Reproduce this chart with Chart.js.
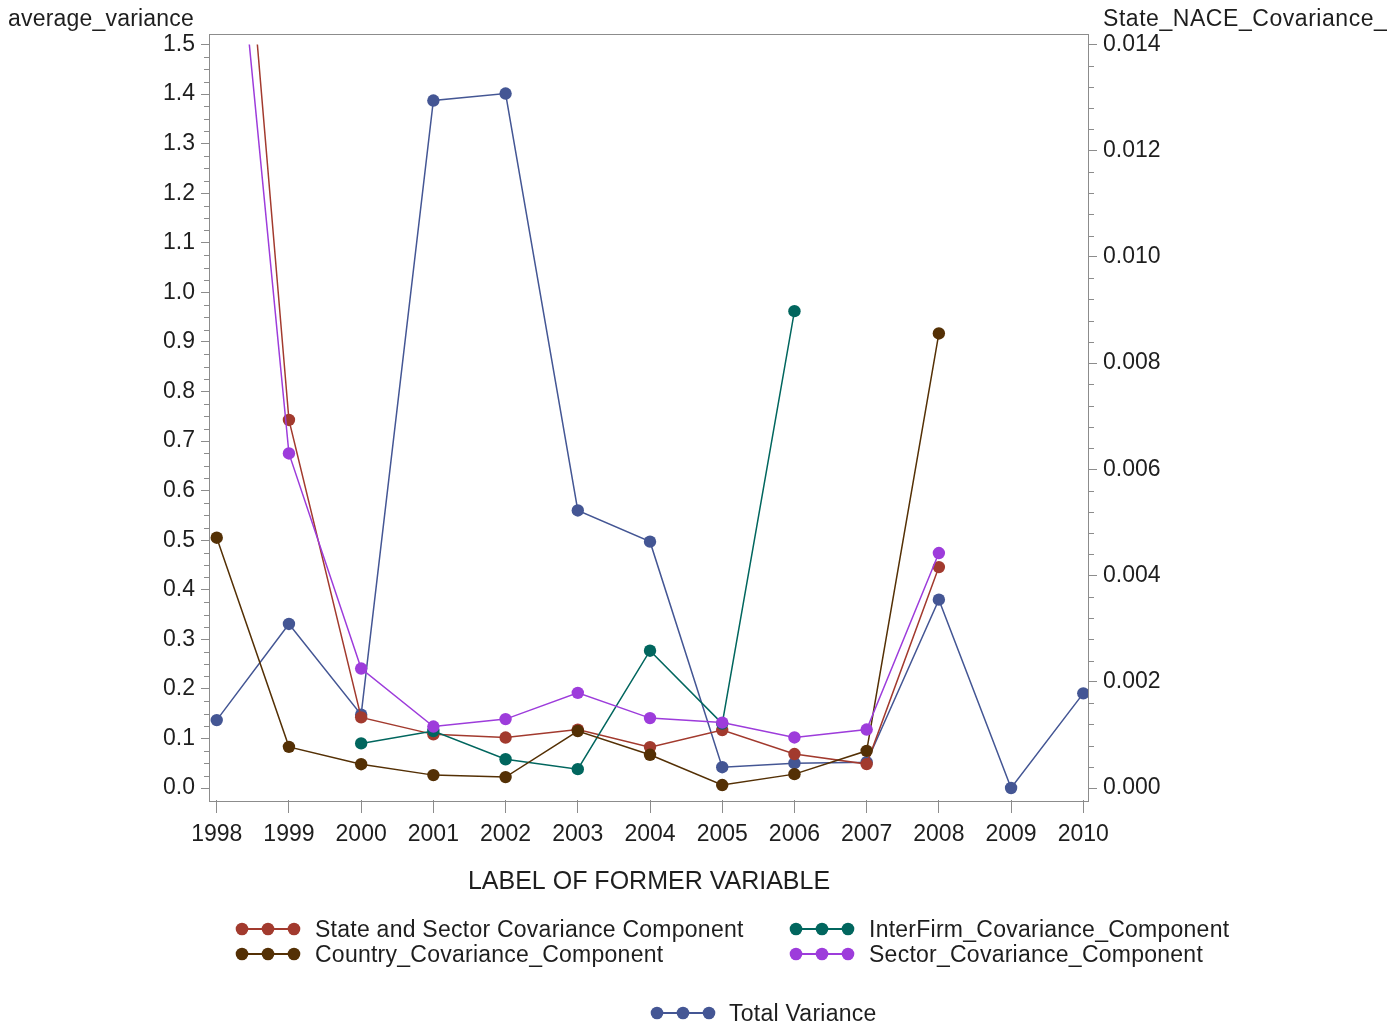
<!DOCTYPE html>
<html>
<head>
<meta charset="utf-8">
<script src="https://cdn.jsdelivr.net/npm/chart.js@4.4.1/dist/chart.umd.min.js"></script>
<style>
html,body{margin:0;padding:0;background:#fff;}
#wrap{position:relative;width:1387px;height:1027px;overflow:hidden;font-family:"Liberation Sans",Arial,sans-serif;color:#1e1e1e;}
#c{position:absolute;left:0;top:0;width:1387px;height:1027px;}
.t{position:absolute;font-size:23px;line-height:26px;white-space:nowrap;letter-spacing:0.2px;}
.lt{position:absolute;font-size:23px;line-height:26px;white-space:nowrap;letter-spacing:0.25px;}
.li{position:absolute;}
</style>
</head>
<body>
<div id="wrap">
<canvas id="c" width="1387" height="1027"></canvas>
<div class="t" style="left:8px;top:5px;">average_variance</div>
<div class="t" style="left:1103px;top:5px;letter-spacing:0.55px;">State_NACE_Covariance_</div>
</div>
<script>
// ---------------- data ----------------
const years = [1998, 1999, 2000, 2001, 2002, 2003, 2004, 2005, 2006, 2007, 2008, 2009, 2010];

const totalVariance   = [0.137, 0.331, 0.148, 1.387, 1.401, 0.560, 0.497, 0.042, 0.050, 0.052, 0.380, 0.000, 0.191];
// plotted on the right axis (State_NACE_Covariance_)
const stateSectorCov  = [0.0231, 0.00693, 0.00133, 0.00101, 0.00095, 0.00110, 0.00077, 0.00109, 0.00064, 0.00045, 0.00416, null, null];
const interFirmCov    = [null, null, 0.090, 0.115, 0.058, 0.038, 0.277, 0.130, 0.962, null, null, null, null];
const countryCov      = [0.505, 0.083, 0.048, 0.026, 0.022, 0.115, 0.067, 0.006, 0.028, 0.075, 0.917, null, null];
const sectorCov       = [2.179, 0.675, 0.241, 0.124, 0.139, 0.192, 0.141, 0.132, 0.102, 0.118, 0.474, null, null];

const leftTicks  = [0.0, 0.1, 0.2, 0.3, 0.4, 0.5, 0.6, 0.7, 0.8, 0.9, 1.0, 1.1, 1.2, 1.3, 1.4, 1.5];
const rightTicks = [0.000, 0.002, 0.004, 0.006, 0.008, 0.010, 0.012, 0.014];

const seriesNames = ['State and Sector Covariance Component', 'InterFirm_Covariance_Component',
                     'Country_Covariance_Component', 'Sector_Covariance_Component', 'Total Variance'];
const xTitle = 'LABEL OF FORMER VARIABLE';

// ---------------- styling ----------------
const colors = {
  total: '#445694', state: '#A23A2E', inter: '#01665E', country: '#543005', sector: '#9D3CDB'
};
const FONT = '"Liberation Sans", Arial, sans-serif';
const TXT = '#1e1e1e';
const AX = '#8c8c8c';
Chart.defaults.font.family = FONT;

function pts(vals) { return years.map((y, i) => ({x: y, y: vals[i]})); }
function ds(label, vals, color, axis, order) {
  return {
    label, data: pts(vals), yAxisID: axis, order,
    borderColor: color, backgroundColor: color, borderWidth: 1.5,
    pointRadius: 6.2, pointBorderWidth: 0, pointBackgroundColor: color,
    pointHoverRadius: 6.2, tension: 0, spanGaps: false,
    clip: {left: 0, top: -11, right: 0, bottom: 0}
  };
}

const RL = 0.014 / 1.5; // right axis units per left unit (shared pixel mapping)
const yMin = -0.0242, yMax = 1.5222;

const frameAndMinor = {
  id: 'frameAndMinor',
  afterDraw(chart) {
    const {ctx, chartArea: a, scales} = chart;
    ctx.save();
    ctx.strokeStyle = AX; ctx.lineWidth = 1;
    ctx.strokeRect(Math.round(a.left) + 0.5, Math.round(a.top) + 0.5,
                   Math.round(a.right - a.left) - 1, Math.round(a.bottom - a.top));
    ctx.beginPath();
    // minor ticks left (every 0.025)
    for (let i = 0; i <= 60; i++) {
      if (i % 4 === 0) continue;
      const y = Math.round(scales.y.getPixelForValue(i * 0.025)) + 0.5;
      ctx.moveTo(a.left - 5, y); ctx.lineTo(a.left, y);
    }
    // minor ticks right (every 0.0004)
    for (let i = 0; i <= 35; i++) {
      if (i % 5 === 0) continue;
      const y = Math.round(scales.y1.getPixelForValue(i * 0.0004)) + 0.5;
      ctx.moveTo(a.right, y); ctx.lineTo(a.right + 5, y);
    }
    ctx.stroke();
    ctx.restore();
  }
};

const chart = new Chart(document.getElementById('c'), {
  type: 'line',
  data: {
    datasets: [
      ds(seriesNames[4], totalVariance, colors.total, 'y', 5),
      ds(seriesNames[0], stateSectorCov, colors.state, 'y1', 4),
      ds(seriesNames[1], interFirmCov, colors.inter, 'y', 3),
      ds(seriesNames[2], countryCov, colors.country, 'y', 2),
      ds(seriesNames[3], sectorCov, colors.sector, 'y', 1)
    ]
  },
  options: {
    responsive: false, animation: false, devicePixelRatio: 1,
    layout: {padding: {top: 33.5, bottom: 127, left: 0, right: 0}},
    plugins: {legend: {display: false}, tooltip: {enabled: false}},
    events: [],
    scales: {
      x: {
        type: 'linear', position: 'bottom', min: 1997.893, max: 2010.079,
        afterBuildTicks: s => { s.ticks = years.map(v => ({value: v})); },
        ticks: {callback: v => String(v), font: {size: 23}, color: TXT, padding: 8, autoSkip: false, maxRotation: 0},
        grid: {display: true, drawOnChartArea: false, drawTicks: true, tickLength: 13, color: AX},
        border: {display: false},
        title: {display: true, text: xTitle, font: {size: 25}, color: TXT, padding: {top: 0, bottom: 3}},
        afterFit: s => { s.height = 100; }
      },
      y: {
        type: 'linear', position: 'left', min: yMin, max: yMax,
        afterBuildTicks: s => { s.ticks = leftTicks.map(v => ({value: v})); },
        ticks: {callback: v => Number(v).toFixed(1), font: {size: 23}, color: TXT, padding: 6, autoSkip: false},
        grid: {display: true, drawOnChartArea: false, drawTicks: true, tickLength: 8, color: AX},
        border: {display: false},
        afterFit: s => { s.width = 209; }
      },
      y1: {
        type: 'linear', position: 'right', min: yMin * RL, max: yMax * RL,
        afterBuildTicks: s => { s.ticks = rightTicks.map(v => ({value: v})); },
        ticks: {callback: v => Number(v).toFixed(3), font: {size: 23}, color: TXT, padding: 6, autoSkip: false},
        grid: {display: true, drawOnChartArea: false, drawTicks: true, tickLength: 8, color: AX},
        border: {display: false},
        afterFit: s => { s.width = 298; }
      }
    }
  },
  plugins: [frameAndMinor]
});

// ---------------- HTML legend ----------------
const legendLayout = [
  {name: seriesNames[0], color: colors.state,   ix: 235,   tx: 315, y: 929},
  {name: seriesNames[1], color: colors.inter,   ix: 788.5, tx: 869, y: 929},
  {name: seriesNames[2], color: colors.country, ix: 235,   tx: 315, y: 954},
  {name: seriesNames[3], color: colors.sector,  ix: 788.5, tx: 869, y: 954},
  {name: seriesNames[4], color: colors.total,   ix: 650,   tx: 729, y: 1013}
];
const wrap = document.getElementById('wrap');
legendLayout.forEach(it => {
  const svgNS = 'http://www.w3.org/2000/svg';
  const svg = document.createElementNS(svgNS, 'svg');
  svg.setAttribute('width', '66'); svg.setAttribute('height', '14');
  svg.setAttribute('class', 'li');
  svg.style.left = it.ix + 'px'; svg.style.top = (it.y - 7) + 'px';
  const ln = document.createElementNS(svgNS, 'line');
  ln.setAttribute('x1', '7'); ln.setAttribute('x2', '59'); ln.setAttribute('y1', '7'); ln.setAttribute('y2', '7');
  ln.setAttribute('stroke', it.color); ln.setAttribute('stroke-width', '2');
  svg.appendChild(ln);
  [7, 33, 59].forEach(cx => {
    const c = document.createElementNS(svgNS, 'circle');
    c.setAttribute('cx', cx); c.setAttribute('cy', '7'); c.setAttribute('r', '6.3');
    c.setAttribute('fill', it.color);
    svg.appendChild(c);
  });
  wrap.appendChild(svg);
  const d = document.createElement('div');
  d.className = 'lt';
  d.style.left = it.tx + 'px'; d.style.top = (it.y - 13) + 'px';
  d.textContent = it.name;
  wrap.appendChild(d);
});
</script>
</body>
</html>
